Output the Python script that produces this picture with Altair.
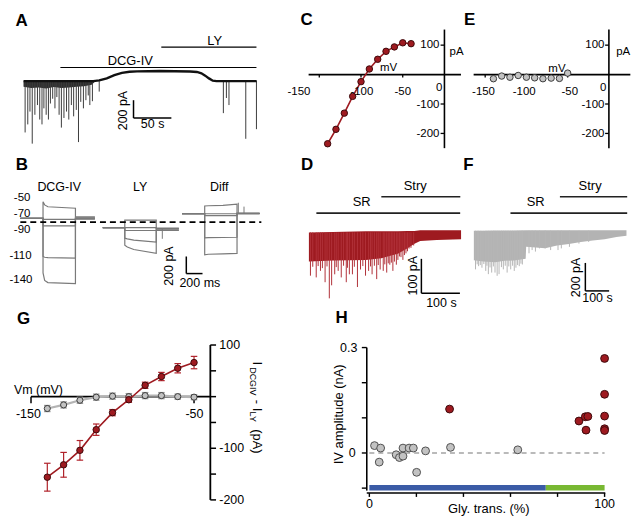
import altair as alt
import pandas as pd

FONT = "Liberation Sans"
SX, SY = 624 / 640, 508 / 524
RED = "#9e1a20"
RED_EDGE = "#3d0a0c"
GRAY_FILL = "#c2c2c2"
GRAY_EDGE = "#3a3a3a"

# ---------------- data ----------------
# A : holding current trace (s, pA)
A_base_t = [0, 92, 100, 110, 120, 130, 140, 150, 180, 200, 220, 229, 235, 240, 245, 250, 255, 308]
A_base_i = [0, 0, 8, 30, 65, 90, 102, 106, 110, 108, 105, 100, 85, 60, 30, 5, 0, 0]
A_band_t = [0, 10, 20, 30, 40, 50, 60, 70, 80, 90, 95]
A_band_lo = [-60, -75, -70, -80, -65, -75, -70, -60, -55, -40, 0]
A_spike_t = [2.1, 5.6, 8.5, 11.5, 15, 18.4, 21.4, 24.4, 26.9, 29.9, 32.9, 35.5, 38.5, 41.5, 44, 47, 50,
             53.4, 56.8, 59.8, 63.2, 66.2, 69.7, 72.6, 75.6, 79.1, 82.4, 85.5, 87.6, 91, 100,
             264, 268, 271.4, 293.6, 307.7]
A_spike_i = [-560, -472, -332, -682, -367, -261, -419, -472, -297, -367, -419, -244, -192, -297, -174, -367, -507,
             -402, -332, -419, -261, -384, -314, -665, -226, -297, -208, -156, -261, -219, -114,
             -349, -184, -261, -629, -524]

# B : current responses to voltage steps (ms, pA)
B_steps = ["-50", "-70", "-90", "-110", "-140"]
B_dcg_t = [0, 280, 280, 300, 340, 680, 680, 920]
B_dcg_i = {"-50": [43, 43, 236, 200, 178, 161, 60, 60],
           "-70": [43, 43, 31, 31, 31, 31, 50, 50],
           "-90": [43, 43, -45, -45, -45, -45, 45, 45],
           "-110": [43, 43, -401, -410, -415, -420, 40, 40],
           "-140": [43, 43, -592, -680, -705, -716, 35, 35]}
B_ly_t = [1017, 1289, 1289, 1320, 1400, 1677, 1677, 1956]
B_ly_i = {"-50": [-64, -64, 22, 22, 22, 22, -70, -70],
          "-70": [-64, -64, -64, -64, -64, -64, -75, -75],
          "-90": [-64, -64, -98, -98, -98, -98, -80, -80],
          "-110": [-64, -64, -188, -195, -210, -233, -90, -90],
          "-140": [-64, -64, -270, -290, -320, -364, -98, -98]}
B_diff_t = [1995, 2275, 2275, 2320, 2500, 2674, 2674, 2953]
B_diff_i = {"-50": [97, 97, 187, 190, 195, 209, 100, 100],
            "-70": [97, 97, 97, 97, 97, 97, 100, 100],
            "-90": [97, 97, 74, 74, 74, 74, 95, 95],
            "-110": [97, 97, -185, -182, -180, -177, 105, 105],
            "-140": [97, 97, -382, -375, -370, -364, 102, 102]}
B_blip_t = [1752, 2690, 2760]
B_blip_lo = [-75, 100, 100]
B_blip_hi = [-195, 225, 180]

# C : DCG-IV IV curve (mV, pA)
C_mv = [-140, -130, -120, -110, -100, -90, -80, -70, -60, -50, -40]
C_pa = [-235, -186, -131, -74, -24, 19, 52, 79, 94, 108, 105]

# E : LY IV curve (mV, pA)
E_mv = [-140, -130, -120, -110, -100, -90, -80, -70, -60, -50]
E_pa = [-14, -5, -9, -3, -9, -11, -14, -12, -13, 5]

# D : SR / strychnine trace (s, pA)
D_env_t = [0, 62, 148, 188, 231, 256, 274, 289, 332, 395]
D_env_hi = [0, 1, 3, 3, 3, 4, 4, 6, 6, 6]
D_env_lo = [-85, -82, -80, -75, -62, -46, -33, -25, -22, -20]
D_spike_t = [4, 10, 19, 24, 30, 35, 42, 47, 53, 59, 67, 71, 76, 84, 90, 97, 100, 105, 113, 118,
             126, 134, 140, 147, 155, 160, 164, 170, 176, 180, 185, 193, 197, 202, 206, 210, 214, 218, 222, 227,
             231, 235, 239, 244, 248, 252, 256, 260, 265, 272]
D_spike_i = [-126, -100, -131, -98, -112, -104, -145, -99, -192, -154, -122, -101, -112, -131, -97, -145, -103, -122, -122, -100,
             -159, -108, -98, -126, -112, -99, -122, -97, -136, -95, -108, -112, -93, -117, -90, -94, -88, -112, -85, -94,
             -80, -70, -72, -80, -66, -61, -55, -47, -45, -38]

# F : SR / strychnine trace, second cell (s, pA)
F_env_t = [0, 40, 90, 130, 170, 218, 220, 260, 300, 350, 400, 450, 500, 550, 600, 642]
F_env_hi = [0, 0, 2, 2, 2, 3, 3, 3, 3, 3, 3, 3, 4, 4, 4, 4]
F_env_lo = [-210, -220, -225, -215, -212, -200, -115, -120, -125, -105, -95, -80, -70, -60, -45, -35]
F_spike_t = [7, 14, 20, 27, 34, 42, 50, 55, 61, 68, 75, 82, 89, 98, 106, 116, 124, 132, 140, 147,
             155, 163, 170, 177, 184, 191, 198, 204, 232, 245, 259, 276, 300, 323, 354, 368, 402, 442, 483]
F_spike_i = [-276, -240, -253, -245, -264, -238, -287, -250, -310, -262, -299, -255, -299, -322, -310, -260, -276, -250, -299, -255,
             -276, -250, -287, -264, -245, -253, -235, -241, -161, -138, -149, -126, -126, -138, -138, -126, -115, -92, -80]

# G : mean IV (mV, pA)
G_mv = [-140, -130, -120, -110, -100, -90, -80, -70, -60, -50]
G_red = [-156, -132, -104, -64, -31, -6, 22, 39, 55, 66]
G_red_err = [27, 24, 19, 11, 6, 5, 6, 8, 9, 12]
G_gray = [-23, -16, -7, -1, 1, 0, 2, 2, 0, -1]
G_gray_err = [6, 6, 6, 6, 6, 6, 6, 6, 5, 5]

# H : IV amplitude vs glycinergic transmission
H_gray_x = [2.2, 4.8, 4.2, 11.4, 12.8, 14.3, 14.3, 16.9, 18.7, 20.1, 23.9, 34.5, 63.1]
H_gray_y = [0.021, 0.014, -0.026, -0.005, -0.013, -0.009, 0.014, 0.014, 0.014, -0.055, 0.006, 0.016, 0.009]
H_red_x = [34.1, 89.1, 91.8, 92.9, 92.1, 100, 100, 100, 100, 100]
H_red_y = [0.125, 0.091, 0.103, 0.104, 0.065, 0.269, 0.167, 0.105, 0.069, 0.064]
H_band_x = [0, 75]
H_band_x2 = [75, 100]
H_band_col = ["#3b5ba6", "#78b832"]


# ---------------- helpers ----------------
class Panel:
    def __init__(self, xdom, ydom, w, h):
        self.xs = alt.Scale(domain=xdom, nice=False, zero=False)
        self.ys = alt.Scale(domain=ydom, nice=False, zero=False)
        self.w = round(w * SX, 2)
        self.h = round(h * SY, 2)
        self.layers = []

    def X(self, f="x"):
        return alt.X(f"{f}:Q", scale=self.xs, axis=None)

    def Y(self, f="y"):
        return alt.Y(f"{f}:Q", scale=self.ys, axis=None)

    def seg(self, rows, color="black", width=1.2, dash=None):
        df = pd.DataFrame(rows, columns=["x", "y", "x2", "y2"])
        kw = dict(color=color, strokeWidth=width)
        if dash:
            kw["strokeDash"] = dash
        self.layers.append(alt.Chart(df).mark_rule(**kw).encode(
            x=self.X(), y=self.Y(), x2="x2:Q", y2="y2:Q"))

    def text(self, rows, size=12, align="center", angle=0, weight="normal", color="black"):
        df = pd.DataFrame(rows, columns=["x", "y", "t"])
        self.layers.append(alt.Chart(df).mark_text(
            font=FONT, fontSize=size, align=align, angle=angle, fontWeight=weight,
            color=color, baseline="middle").encode(x=self.X(), y=self.Y(), text="t:N"))

    def line(self, df, color, width, detail=None):
        enc = dict(x=self.X(), y=self.Y(), order="i:Q")
        if detail:
            enc["detail"] = f"{detail}:N"
        self.layers.append(alt.Chart(df).mark_line(color=color, strokeWidth=width).encode(**enc))

    def area(self, df, color):
        self.layers.append(alt.Chart(df).mark_area(color=color, opacity=1).encode(
            x=self.X(), y=self.Y("lo"), y2="hi:Q"))

    def pts(self, df, fill, stroke, size, sw=1.0):
        self.layers.append(alt.Chart(df).mark_circle(
            fill=fill, stroke=stroke, strokeWidth=sw, size=size, opacity=1).encode(
            x=self.X(), y=self.Y()))

    def rects(self, df):
        self.layers.append(alt.Chart(df).mark_rect().encode(
            x=self.X(), x2="x2:Q", y=self.Y(), y2="y2:Q",
            color=alt.Color("c:N", scale=None)))

    def chart(self):
        return alt.layer(*self.layers).properties(width=self.w, height=self.h)


def errbars(p, xs, ys, es, color, cap, width=1.2):
    rows = []
    for x, y, e in zip(xs, ys, es):
        rows.append((x, y - e, x, y + e))
        rows.append((x - cap, y + e, x + cap, y + e))
        rows.append((x - cap, y - e, x + cap, y - e))
    p.seg(rows, color=color, width=width)


LET = 17
TXT = 12.5
TICK = 11.5

# ---------------- panel A ----------------
A = Panel([-19.2, 326.9], [-700, 773.7], 270, 140)
A.area(pd.DataFrame({"x": A_band_t, "lo": A_band_lo, "hi": [0] * len(A_band_t)}), "#2e2e2e")
A.seg([(t, 0, t, a) for t, a in zip(A_spike_t, A_spike_i)], color="#3c3c3c", width=1)
A.line(pd.DataFrame({"x": A_base_t, "y": A_base_i, "i": range(len(A_base_t))}), "#111111", 2.4)
A.seg([(48.7, 149, 307.7, 149), (182, 370, 307.7, 370)], width=1.2)
A.seg([(145.3, -208, 145.3, -402), (145.3, -402, 195.3, -402)], width=1.5)
A.text([(141, 216, "DCG-IV"), (252.6, 437, "LY")], size=13)
A.text([(170.5, -472, "50 s")], size=TXT)
A.text([(130.8, -321, "200 pA")], size=TXT, angle=270)
A.text([(-2.6, 658, "A")], size=LET, weight="bold")

# ---------------- panel B ----------------
B = Panel([-140, 3093], [-907, 891], 270, 160)
rows = []
for gname, gt, gi in [("dcg", B_dcg_t, B_dcg_i), ("ly", B_ly_t, B_ly_i), ("diff", B_diff_t, B_diff_i)]:
    for s in B_steps:
        for k, (t, v) in enumerate(zip(gt, gi[s])):
            rows.append({"sweep": gname + s, "x": t, "y": v, "i": k})
B.line(pd.DataFrame(rows), "#7a7a7a", 1.2, detail="sweep")
B.seg([(t, lo, t, hi) for t, lo, hi in zip(B_blip_t, B_blip_lo, B_blip_hi)], color="#7a7a7a", width=1)
B.seg([(0, 0, 2974, 0)], color="black", width=1.8, dash=[6, 4])
B.seg([(2048, -401, 2048, -600), (2048, -600, 2248, -600)], width=1.5)
B.text([(-80, 284, "-50"), (-80, 93, "-70"), (-80, -87, "-90"),
        (-134, -390, "-110"), (-134, -670, "-140")], size=TICK, align="left")
B.text([(479, 404, "DCG-IV"), (1477, 404, "LY"), (2455, 404, "Diff"), (2215, -712, "200 ms")], size=TXT)
B.text([(1836, -513, "200 pA")], size=TXT, angle=270)
B.text([(19, 661, "B")], size=LET, weight="bold")

# ---------------- panel C ----------------
C = Panel([-207, 25.6], [-240.3, 218.7], 200, 140)
C.seg([(-162.8, 0, 19.8, 0), (0, 153, 0, -250)], width=1.6)
C.seg([(v, 0, v, -10) for v in (-150, -100, -50)] + [(0, v, -4.6, v) for v in (100, -100, -200)], width=1.3)
C.line(pd.DataFrame({"x": C_mv, "y": C_pa, "i": range(len(C_mv))}), RED, 1.6)
C.pts(pd.DataFrame({"x": C_mv, "y": C_pa}), RED, RED_EDGE, 42)
C.text([(-174.4, -59, "-150"), (-99, -59, "-100"), (-50, -59, "-50"), (-6.4, -46, "0")], size=TICK)
C.text([(-6, 99, "100"), (-6, -103, "-100"), (-6, -203, "-200")], size=TICK, align="right")
C.text([(-66.9, 20.7, "mV"), (14.5, 76, "pA")], size=TICK)
C.text([(-165.3, 186, "C")], size=LET, weight="bold")

# ---------------- panel E ----------------
E = Panel([-173.5, 26.5], [-240.3, 218.7], 170, 140)
E.seg([(-164, 0, 26, 0), (0, 153, 0, -250)], width=1.6)
E.seg([(v, 0, v, -10) for v in (-150, -100, -50)] + [(0, v, -4.6, v) for v in (100, -100, -200)], width=1.3)
E.pts(pd.DataFrame({"x": E_mv, "y": E_pa}), GRAY_FILL, GRAY_EDGE, 42)
E.text([(-152, -59, "-150"), (-102.7, -59, "-100"), (-47.4, -59, "-50"), (-6.8, -45, "0")], size=TICK)
E.text([(-5.5, 99, "100"), (-5.5, -103, "-100"), (-5.5, -203, "-200")], size=TICK, align="right")
E.text([(-63, 20, "mV"), (17.3, 77, "pA")], size=TICK)
E.text([(-168.8, 186, "E")], size=LET, weight="bold")

# ---------------- panel D ----------------
D = Panel([-96.5, 407.3], [-196.6, 252.8], 200, 160)
D.area(pd.DataFrame({"x": D_env_t, "lo": D_env_lo, "hi": D_env_hi}), "#9e1a20")
D.seg([(t, 0, t, a) for t, a in zip(D_spike_t, D_spike_i)], color="#b03038", width=1)
D.seg([(19.4, 56, 392.7, 56), (188, 104, 393, 104)], color="#222222", width=1.6)
D.seg([(292, -77, 292, -177), (292, -177, 392, -177)], width=1.5)
D.text([(137, 87, "SR"), (276, 135, "Stry")], size=13)
D.text([(344, -205, "100 s")], size=TXT)
D.text([(269, -126, "100 pA")], size=TXT, angle=270)
D.text([(-4.5, 195, "D")], size=LET, weight="bold")

# ---------------- panel F ----------------
F = Panel([-33.9, 660], [-494.5, 609], 170, 160)
F.area(pd.DataFrame({"x": F_env_t, "lo": F_env_lo, "hi": F_env_hi}), "#b3b3b3")
F.seg([(t, 0, t, a) for t, a in zip(F_spike_t, F_spike_i)], color="#b5b5b5", width=1)
F.seg([(154, 126, 645, 126), (362, 243, 645, 243)], color="#222222", width=1.6)
F.seg([(469, -230, 469, -430), (469, -430, 569, -430)], width=1.5)
F.text([(260, 202, "SR"), (489, 319, "Stry")], size=13)
F.text([(520, -483, "100 s")], size=TXT)
F.text([(429, -334, "200 pA")], size=TXT, angle=270)
F.text([(-23, 467, "F")], size=LET, weight="bold")

# ---------------- panel G (ref x 0..270) ----------------
G = Panel([-163.5, -2.8], [-233, 185.6], 270, 224)
G.seg([(-150, 0, -40, 0), (-40, 100, -40, -200)], width=1.8)
G.seg([(-150, 0, -150, -13), (-50, 0, -50, -13)] +
      [(-40, v, -36.5, v) for v in (100, 50, 0, -50, -100, -150, -200)], width=1.5)
errbars(G, G_mv, G_gray, G_gray_err, "#9a9a9a", 2)
G.line(pd.DataFrame({"x": G_mv, "y": G_gray, "i": range(len(G_mv))}), "#b4b4b4", 2.2)
G.pts(pd.DataFrame({"x": G_mv, "y": G_gray}), GRAY_FILL, GRAY_EDGE, 38)
errbars(G, G_mv, G_red, G_red_err, "#b0222a", 2)
G.line(pd.DataFrame({"x": G_mv, "y": G_red, "i": range(len(G_mv))}), RED, 1.6)
G.pts(pd.DataFrame({"x": G_mv, "y": G_red}), RED, RED_EDGE, 42)
G.text([(-34.5, 100, "100"), (-34.5, -100, "-100"), (-34.5, -200, "-200")], size=12.5, align="left")
G.text([(-151.6, -33, "-150"), (-49.8, -33, "-50")], size=12.5)
G.text([(-160.5, 12, "Vm (mV)")], size=12.5, align="left")
G.text([(-11.1, 68, "I"), (-11.1, -6, "- I"), (-11.1, -63, "(pA)")], size=13, angle=90, align="left")
G.text([(-13.6, 57, "DCGIV"), (-13.6, -29, "LY")], size=9, angle=90, align="left")
G.text([(-154.6, 151, "G")], size=LET, weight="bold")

# ---------------- panel H (panel ref x 270..470, marks continue to the right) ----------------
H = Panel([-41.5, 41.0], [-0.182, 0.433], 200, 224)
H.rects(pd.DataFrame({"x": H_band_x, "x2": H_band_x2, "y": [-0.091] * 2, "y2": [-0.107] * 2, "c": H_band_col}))
H.seg([(-1.1, 0.3, -1.1, -0.107), (-1.1, -0.114, 100.3, -0.114)], width=1.6)
H.seg([(-1.1, v, -3.2, v) for v in (0.3, 0.2, 0.1, 0.0, -0.1)] +
      [(v, -0.114, v, -0.125) for v in (0, 20, 40, 60, 80, 100)], width=1.4)
H.seg([(0, 0, 100, 0)], color="#777777", width=1.2, dash=[5, 4])
H.pts(pd.DataFrame({"x": H_gray_x, "y": H_gray_y}), GRAY_FILL, "#505050", 62)
H.pts(pd.DataFrame({"x": H_red_x, "y": H_red_y}), RED, RED_EDGE, 62)
H.text([(-5.1, 0.3, "0.3"), (-5.8, 0.0, "0")], size=12.5, align="right")
H.text([(0, -0.146, "0"), (100, -0.146, "100")], size=12.5)
H.text([(50.8, -0.159, "Gly. trans. (%)")], size=13)
H.text([(-12.7, 0.11, "IV amplitude (nA)")], size=13, angle=270)
H.text([(-11.8, 0.383, "H")], size=LET, weight="bold")

# empty cell (ref x 470..640 of the bottom row; H's marks extend into it)
blank = alt.Chart(pd.DataFrame({"x": [0], "y": [0]})).mark_point(opacity=0).encode(
    x=alt.X("x:Q", axis=None), y=alt.Y("y:Q", axis=None)
).properties(width=round(170 * SX, 2), height=round(224 * SY, 2))

# ---------------- layout ----------------
chart = (alt.concat(A.chart(), C.chart(), E.chart(),
                    B.chart(), D.chart(), F.chart(),
                    G.chart(), H.chart(), blank,
                    columns=3, spacing=0, bounds="flush")
         .properties(padding=0)
         .configure_view(stroke="transparent"))

chart.save("out.html", embed_options={"renderer": "svg", "actions": False})
